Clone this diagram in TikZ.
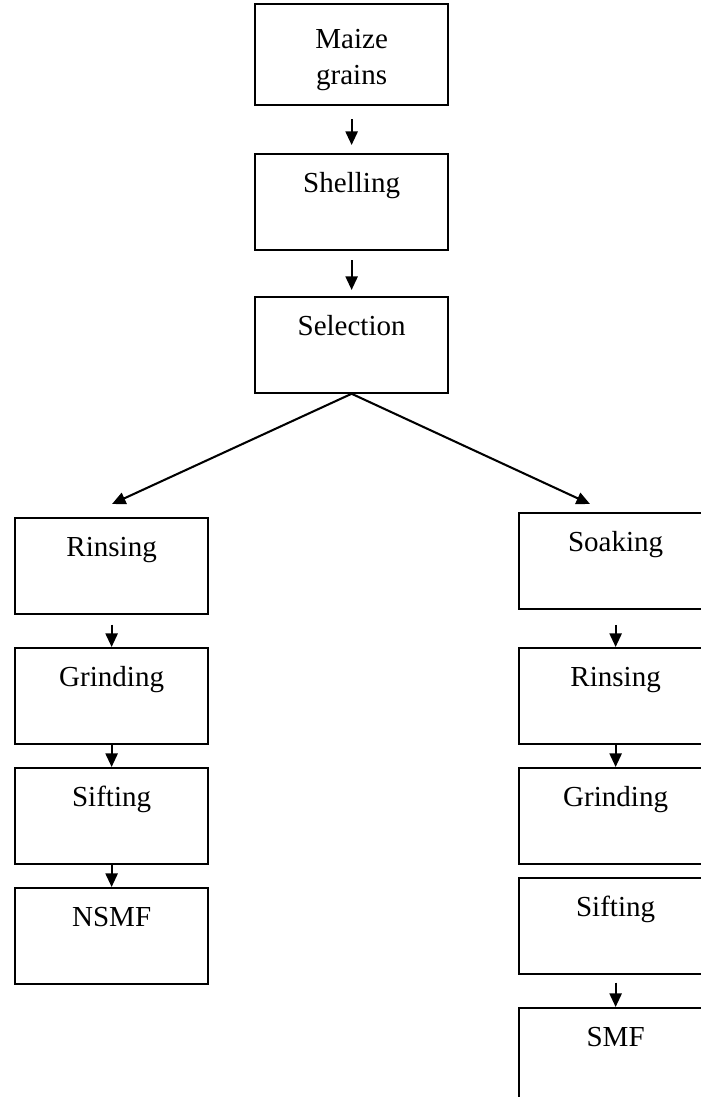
\documentclass[tikz,border=0pt]{standalone}
\usepackage{fontspec}
\setmainfont{Liberation Serif}
\usetikzlibrary{arrows.meta}

\begin{document}
\begin{tikzpicture}[x=0.4133pt, y=-0.4133pt,
		stepbox/.style={draw, line width=0.9pt, anchor=north west, inner sep=0pt, align=center, text width=79.8pt, minimum width=79.8pt, text height=16pt, text depth=23.5pt, font=\fontsize{12}{14.9}\selectfont},
		flow/.style={line width=0.85pt, -{Triangle[length=5.6pt, width=5pt]}}]
			\useasboundingbox (0,0) rectangle (701,1097);
			\clip (0,0) rectangle (701,1097);

			\node [stepbox, text height=18.2pt, text depth=23.6pt] (maize) at (254,3) {Maize\\grains};
			\node [stepbox] (shell) at (254,153) {Shelling};
			\node [stepbox] (select) at (254,296) {Selection};

			\node [stepbox] (rinseA) at (14,517) {Rinsing};
			\node [stepbox] (grindA) at (14,647) {Grinding};
			\node [stepbox] (siftA) at (14,767) {Sifting};
			\node [stepbox] (nsmf) at (14,887) {NSMF};

			\node [stepbox] (soak) at (518,512) {Soaking};
			\node [stepbox] (rinseB) at (518,647) {Rinsing};
			\node [stepbox] (grindB) at (518,767) {Grinding};
			\node [stepbox] (siftB) at (518,877) {Sifting};
			\node [stepbox] (smf) at (518,1007) {SMF};

			\coordinate (tipA) at (112,504);
			\coordinate (tipB) at (590,504);

			\draw [flow, shorten <=5.4pt, shorten >=3.3pt] (maize) to (shell);
			\draw [flow, shorten <=4pt, shorten >=2.5pt] (shell) to (select);
			\draw [flow] (select.south) to (tipA);
			\draw [flow] (select.south) to (tipB);

			\draw [flow, shorten <=4.1pt] (rinseA) to (grindA);
			\draw [flow] (grindA) to (siftA);
			\draw [flow] (siftA) to (nsmf);

			\draw [flow, shorten <=6.2pt] (soak) to (rinseB);
			\draw [flow] (rinseB) to (grindB);
			\draw [flow, shorten <=3.3pt] (siftB) to (smf);
		\end{tikzpicture}
\end{document}
